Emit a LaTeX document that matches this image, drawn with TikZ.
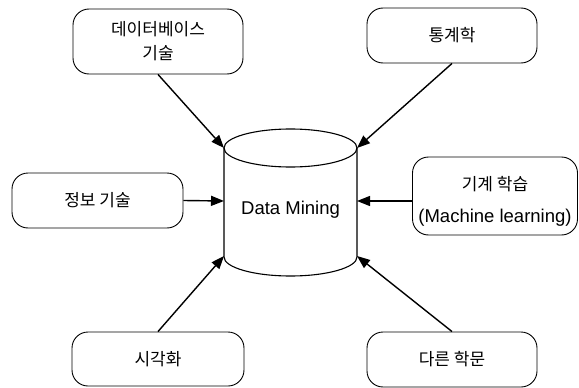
\documentclass[tikz,border=0pt]{standalone}
\usepackage{fontspec}
\setmainfont{Liberation Sans}
\newfontfamily\kr{Noto Sans CJK KR}
\usetikzlibrary{arrows.meta}
\begin{document}
\begin{tikzpicture}[x=1pt,y=-1pt,
  srcbox/.style={draw, line width=0.9pt, rounded corners=16pt, align=center, inner sep=0pt, font=\kr\fontsize{17}{24}\selectfont},
  conn/.style={line width=1.4pt, -{Triangle[length=13pt,width=10pt]}}]
\useasboundingbox (0,0) rectangle (579,388);
% source boxes
\node[srcbox, minimum width=170pt, minimum height=65pt] (db) at (158,41.5) {데이터베이스\\기술};
\node[srcbox, minimum width=170pt, minimum height=55pt] (stat) at (452,35.5) {통계학};
\node[srcbox, minimum width=171pt, minimum height=55pt] (info) at (97.5,200.5) {정보 기술};
\node[srcbox, minimum width=165pt, minimum height=78pt] (ml) at (495,196) {};
\node[align=center, inner sep=0pt, font=\kr\fontsize{17}{24}\selectfont] (mltext) at (495,201) {기계 학습\\[8pt]{\rmfamily\fontsize{18.5}{22}\selectfont (Machine learning)}};
\node[srcbox, minimum width=172pt, minimum height=54pt] (vis) at (158,359) {시각화};
\node[srcbox, minimum width=170pt, minimum height=55pt] (other) at (452,359.5) {다른 학문};
% cylinder
\draw[line width=1.1pt] (290.5,148) ellipse [x radius=66.5pt, y radius=19pt];
\draw[line width=1.1pt] (224,148) -- (224,257) arc[start angle=180, end angle=360, x radius=66.5pt, y radius=19pt] -- (357,148);
\node[font=\fontsize{18.5}{22}\selectfont] (dm) at (290.5,210) {Data Mining};
% cylinder attach points
\coordinate (tl) at (224,148);
\coordinate (tr) at (357,148);
\coordinate (ml0) at (224,201);
\coordinate (mr0) at (357,201);
\coordinate (bl) at (224,256);
\coordinate (br) at (357,256);
% connectors
\draw[conn] (db.south) -- (tl);
\draw[conn] (stat.south) -- (tr);
\draw[conn] (info.east) -- (ml0);
\draw[conn] (ml.west |- mr0) -- (mr0);
\draw[conn] (vis.north) -- (bl);
\draw[conn] (other.north) -- (br);
\end{tikzpicture}
\end{document}
